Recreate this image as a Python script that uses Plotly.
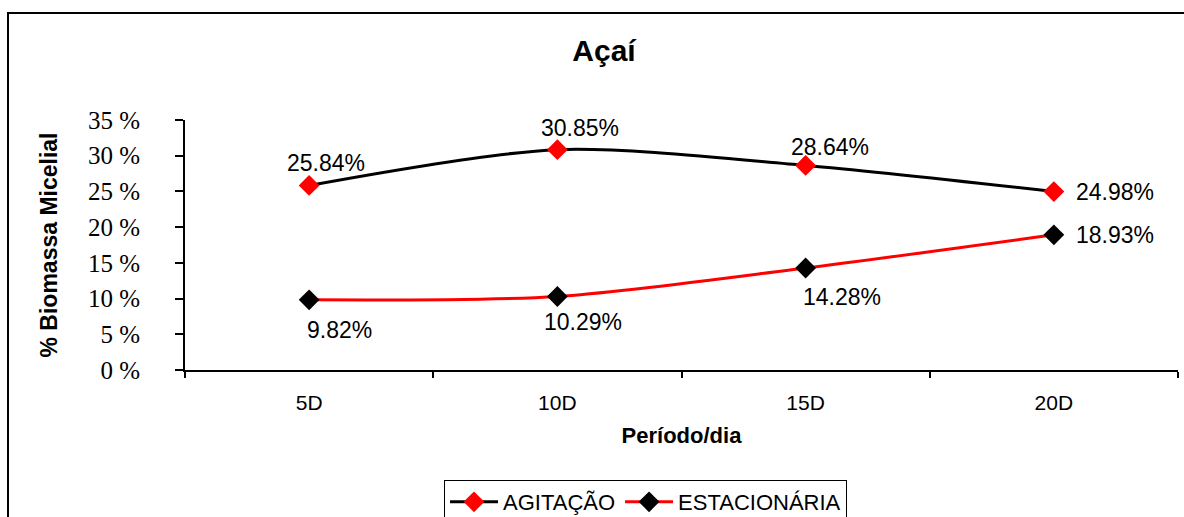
import plotly.graph_objects as go

# Período de cultivo (dias)
periodos = ["5D", "10D", "15D", "20D"]

# % de biomassa micelial por condição de cultivo
agitacao = [25.84, 30.85, 28.64, 24.98]
estacionaria = [9.82, 10.29, 14.28, 18.93]

y_ticks = [0, 5, 10, 15, 20, 25, 30, 35]
y_tick_text = [f"{v} %" for v in y_ticks]

# Label offsets (pixels) relative to each marker
off_agit = [(17, 22), (23, 22), (24, 18), (61, 0)]
off_est = [(30, -30), (26, -25), (36, -29), (61, 0)]

SANS = "Liberation Sans, Arial, sans-serif"
SERIF = "Liberation Serif, Times New Roman, serif"
label_font = dict(family=SANS, size=23, color="black")

fig = go.Figure()

fig.add_trace(go.Scatter(
    x=periodos, y=agitacao, name="AGITAÇÃO",
    mode="lines+markers",
    line=dict(color="black", width=3, shape="spline", smoothing=0.8),
    marker=dict(symbol="diamond", size=16, color="#ff0000"),
    cliponaxis=False,
))

fig.add_trace(go.Scatter(
    x=periodos, y=estacionaria, name="ESTACIONÁRIA",
    mode="lines+markers",
    line=dict(color="#ff0000", width=3, shape="spline", smoothing=0.8),
    marker=dict(symbol="diamond", size=16, color="black"),
    cliponaxis=False,
))

# Value labels
for serie, offs in ((agitacao, off_agit), (estacionaria, off_est)):
    for cat, val, (dx, dy) in zip(periodos, serie, offs):
        fig.add_annotation(x=cat, y=val, text=f"{val:.2f}%", showarrow=False,
                           xanchor="center", yanchor="middle",
                           xshift=dx, yshift=dy, font=label_font)

W, H = 1184, 517
L, R, T, B = 185, 6, 120, 147
pw, ph = W - L - R, H - T - B

def px_x(x):
    return (x - L) / pw

def px_y(y):
    return (H - B - y) / ph

# Chart frame (top and left edges)
fig.add_shape(type="path",
              path=f"M {px_x(8)} {px_y(530)} L {px_x(8)} {px_y(13)} L {px_x(1190)} {px_y(13)}",
              xref="paper", yref="paper", line=dict(color="black", width=2))

fig.update_layout(
    width=W, height=H,
    margin=dict(l=L, r=R, t=T, b=B, autoexpand=False),
    paper_bgcolor="white", plot_bgcolor="white",
    title=dict(text="<b>Açaí</b>", x=604 / W, xanchor="center",
               y=1 - 50 / H, yanchor="middle",
               font=dict(family=SANS, size=30, color="black")),
    showlegend=True,
    legend=dict(orientation="h", x=px_x(444), y=px_y(480), xanchor="left", yanchor="top",
                bordercolor="black", borderwidth=1, bgcolor="white",
                font=dict(family=SANS, size=22, color="black"),
                itemsizing="trace", tracegroupgap=0, itemwidth=48),
    xaxis=dict(
        type="category", range=[-0.5, 3.5],
        showline=True, linecolor="black", linewidth=2,
        ticks="outside", ticklen=6, tickwidth=2, tickcolor="black",
        tickson="boundaries", showgrid=False, zeroline=False,
        tickfont=dict(family=SANS, size=21, color="black"),
        ticklabelstandoff=13,
        title=dict(text="<b>Período/dia</b>", standoff=14,
                   font=dict(family=SANS, size=22, color="black")),
    ),
    yaxis=dict(
        range=[0, 35], tickvals=y_ticks, ticktext=y_tick_text,
        showline=True, linecolor="black", linewidth=2,
        ticks="outside", ticklen=8, tickwidth=2, tickcolor="black",
        showgrid=False, zeroline=False,
        tickfont=dict(family=SERIF, size=25, color="black"),
        ticklabelstandoff=30,
        title=dict(text="<b>% Biomassa Micelial</b>", standoff=24,
                   font=dict(family=SANS, size=23, color="black")),
    ),
)

fig.write_html("out.html")
